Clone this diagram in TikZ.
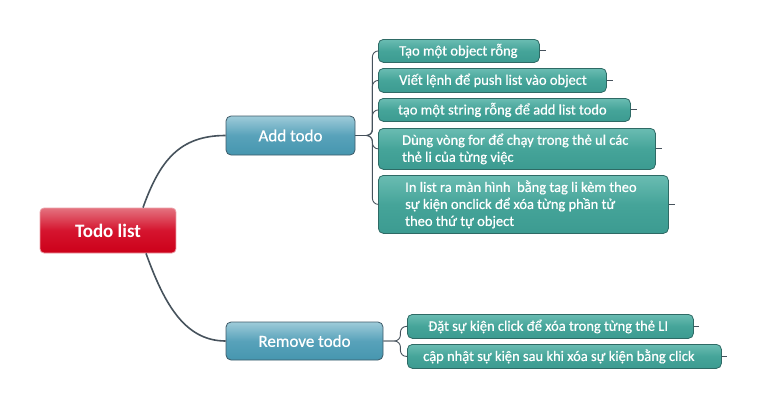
\documentclass[tikz,border=0pt]{standalone}
\usepackage{fontspec}
\setmainfont{Carlito}
\newfontfamily\heavyfont[FakeBold=0.6]{Carlito}
\usetikzlibrary{calc}
\definecolor{lnk}{HTML}{46525C}
\definecolor{rtop}{HTML}{E4727F}
\definecolor{rmid}{HTML}{D5142E}
\definecolor{rbot}{HTML}{CC0019}
\definecolor{redge}{HTML}{EBA0A8}
\definecolor{btop}{HTML}{9ECBD9}
\definecolor{bmid}{HTML}{58A2BA}
\definecolor{bbot}{HTML}{4696AF}
\definecolor{bedge}{HTML}{3E5A68}
\definecolor{ttop}{HTML}{6ABCB2}
\definecolor{tmid}{HTML}{45A499}
\definecolor{tbot}{HTML}{3C9B91}
\definecolor{tedge}{HTML}{2E6A65}
\tikzset{
 rootbox/.style={draw=redge, line width=0.8pt, rounded corners=4pt, top color=rtop, bottom color=rbot, middle color=rmid, text=white, font=\fontsize{19}{22}\selectfont\bfseries, minimum width=136pt, minimum height=45pt, inner sep=0pt},
 mainbox/.style={draw=bedge, line width=0.8pt, rounded corners=5pt, top color=btop, bottom color=bbot, middle color=bmid, text=white, font=\heavyfont\fontsize{17}{20}\selectfont, inner sep=0pt},
 leaf/.style={draw=tedge, line width=0.8pt, rounded corners=5pt, top color=ttop, bottom color=tbot, middle color=tmid, inner sep=0pt, anchor=north west},
 leaftext/.style={text=white, font=\heavyfont\fontsize{14.5}{17}\selectfont, align=left, anchor=west, inner sep=0pt},
 mainlink/.style={draw=lnk, line width=1.6pt},
 sublink/.style={draw=lnk, line width=0.9pt, rounded corners=6pt},
 tail/.style={draw=lnk, line width=0.9pt},
}
\begin{document}
\begin{tikzpicture}[x=1pt,y=-1pt]
\useasboundingbox (0,0) rectangle (762,407);
% root and main topics
\node[rootbox] (root) at (108,230.5) {Todo list};
\node[mainbox, minimum width=129pt, minimum height=39pt] (add) at (290.5,135.5) {Add todo};
\node[mainbox, minimum width=157pt, minimum height=38pt] (rm) at (304.5,341) {Remove todo};
% leaves of Add todo
\node[leaf, minimum width=161pt, minimum height=23pt] (c1) at (378,39) {};
\node[leaftext] (t1) at ($(c1.west)+(21,0)$) {Tạo một object rỗng};
\node[leaf, minimum width=228pt, minimum height=24pt] (c2) at (378,68) {};
\node[leaftext] (t2) at ($(c2.west)+(21,0)$) {Viết lệnh để push list vào object};
\node[leaf, minimum width=252pt, minimum height=23pt] (c3) at (378,98) {};
\node[leaftext] (t3) at ($(c3.west)+(20,0)$) {tạo một string rỗng để add list todo};
\node[leaf, minimum width=277pt, minimum height=41pt] (c4) at (378,128) {};
\node[leaftext] (t4) at ($(c4.west)+(24,0)$) {Dùng vòng for để chạy trong thẻ ul các\\thẻ li của từng việc};
\node[leaf, minimum width=290pt, minimum height=58pt] (c5) at (378,175) {};
\node[leaftext] (t5) at ($(c5.west)+(27,0)$) {In list ra màn hình\ \ bằng tag li kèm theo\\sự kiện onclick để xóa từng phần tử\\theo thứ tự object};
% leaves of Remove todo
\node[leaf, minimum width=286pt, minimum height=24pt] (r1) at (407,314) {};
\node[leaftext] (u1) at ($(r1.west)+(21,0)$) {Đặt sự kiện click để xóa trong từng thẻ LI};
\node[leaf, minimum width=314pt, minimum height=24pt] (r2) at (407,344) {};
\node[leaftext] (u2) at ($(r2.west)+(16,0)$) {cập nhật sự kiện sau khi xóa sự kiện bằng click};
% main connectors
\draw[mainlink] ($(root.north)+(35,0)$) .. controls (160,160) and (180,135.5) .. (add.west);
\draw[mainlink] ($(root.south)+(38,0)$) .. controls (163,300) and (183,341) .. (rm.west);
% sub connectors
\foreach \c in {c1,c2,c3,c4,c5}{
  \draw[sublink] (add.east) -- ++(17,0) |- (\c.west);
  \coordinate (\c e) at ($(\c.east)+(6,0)$);
  \draw[tail] (\c.east) -- (\c e);
}
\foreach \c in {r1,r2}{
  \draw[sublink] (rm.east) -- ++(17,0) |- (\c.west);
  \coordinate (\c e) at ($(\c.east)+(5,0)$);
  \draw[tail] (\c.east) -- (\c e);
}
\end{tikzpicture}
\end{document}
